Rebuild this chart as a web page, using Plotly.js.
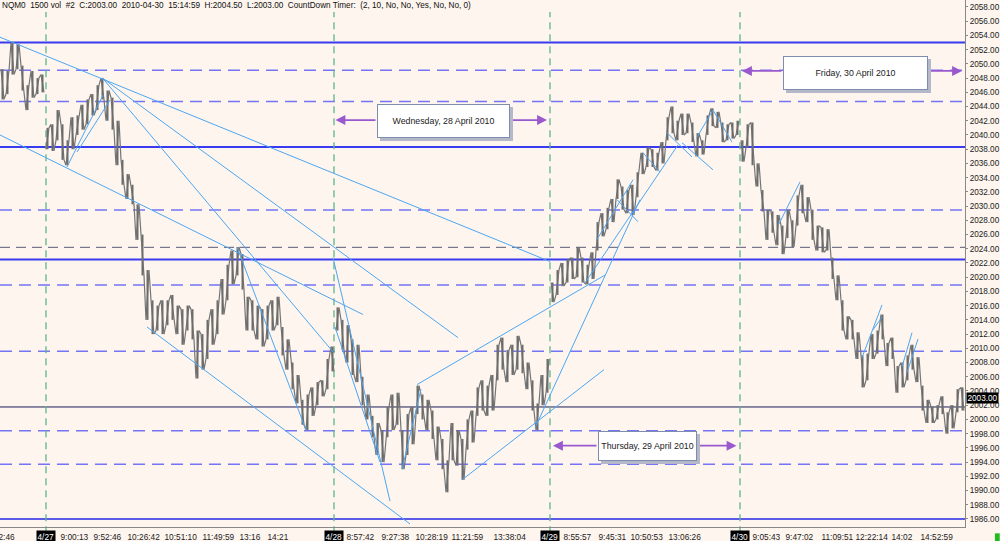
<!DOCTYPE html>
<html><head><meta charset="utf-8">
<script src="https://cdn.plot.ly/plotly-3.0.1.min.js"></script>
<style>html,body{margin:0;padding:0;background:#fdf5ee;}#chart{width:1000px;height:541px;}</style>
</head><body><div id="chart"></div>
<script>
// ---- data (bar index = time slot, prices in index points) ----
const barHigh = [2049.25,2049.0,2053.0,2052.75,2049.75,2047.0,2049.0,2048.0,2048.5,
2041.0,2041.5,2043.5,2041.5,2039.25,2042.5,2042.75,2044.25,2045.0,2045.75,2047.0,2048.0,2046.25,2045.25,2042.0,2036.5,2034.5,2033.0,2030.25,2026.0,2021.0,
2016.75,2016.0,2016.75,2016.75,2017.5,2016.0,2015.5,2016.0,2015.5,2012.5,2012.0,2014.0,2015.5,2016.75,2019.75,2021.75,2023.75,2024.25,2023.25,2017.25,
2016.75,2016.0,2015.5,2016.0,2016.75,2017.25,2013.0,2011.25,2008.0,2006.25,2002.75,2003.5,2004.5,2005.25,2005.5,2008.5,2010.25,
2015.75,2014.0,2013.25,2011.25,2010.5,2006.0,2003.5,2000.5,1999.5,1998.5,2001.75,2003.5,2003.75,1998.5,2000.75,2001.75,2004.75,2003.5,2002.75,2001.25,
1999.0,1997.25,1994.25,1999.5,1998.5,1997.25,2000.0,2001.25,2004.5,2005.5,2004.75,2006.25,2010.5,2011.5,2009.75,2010.5,2011.75,2010.5,2008.0,2005.5,2002.25,2006.25,2008.5,
2019.25,2021.0,2022.0,2022.5,2022.75,2024.25,2022.75,2021.75,2023.5,2027.75,2029.0,2029.75,2031.0,2033.75,2032.75,2032.25,2033.0,2034.75,2037.5,2038.25,
2038.0,2037.5,2039.0,2042.5,2044.0,2042.0,2043.0,2043.0,2041.75,2040.25,2039.25,2042.75,2043.75,2043.25,2041.75,2041.5,2041.75,2042.0,
2039.25,2041.5,2041.75,2036.0,2032.25,2029.5,2029.25,2028.75,2027.25,2029.5,2028.0,2031.5,2033.0,2031.25,2029.5,2027.25,2027.0,2026.75,2022.75,2020.25,
2016.75,2014.5,2014.0,2012.25,2009.0,2009.25,2012.0,2012.5,2014.75,2010.75,2011.5,2007.5,2008.0,2009.0,2010.5,2008.75,2004.75,2002.75,2001.75,2002.0,
2003.25,2001.0,2002.0,2004.25,2004.5];
const barLow = [2045.0,2045.75,2048.5,2049.25,2046.25,2043.5,2045.25,2045.75,2046.0,
2038.0,2037.75,2039.25,2036.5,2035.75,2038.0,2040.0,2040.75,2041.5,2042.75,2043.5,2045.0,2042.0,2040.75,2035.75,2033.0,2031.0,2030.25,2025.25,2020.25,2014.0,
2012.0,2012.5,2012.0,2013.25,2014.0,2012.0,2010.5,2012.5,2011.25,2005.75,2007.0,2008.5,2010.5,2012.0,2014.75,2016.75,2019.0,2020.25,2018.25,2012.5,
2012.5,2011.25,2010.25,2011.25,2012.5,2013.25,2009.0,2007.0,2004.25,2002.25,1999.25,1998.5,2000.5,2002.0,2003.25,2004.25,2006.75,
2012.5,2009.75,2008.0,2006.25,2005.25,2002.0,2000.0,1997.5,1995.0,1994.0,1997.5,1998.5,1999.25,1993.0,1995.0,1996.5,2000.75,2000.0,1998.5,1997.25,
1994.25,1993.0,1989.75,1994.25,1993.5,1991.5,1995.75,1996.75,2000.5,2001.25,2000.5,2001.25,2005.5,2007.0,2005.25,2006.25,2007.0,2006.5,2004.25,2001.25,1998.5,2002.0,2003.75,
2016.5,2017.5,2018.75,2019.25,2019.75,2020.0,2019.25,2019.0,2019.75,2023.75,2025.75,2026.75,2027.75,2031.0,2029.5,2029.0,2028.75,2031.25,2034.5,2035.5,
2035.5,2035.0,2036.0,2039.25,2040.25,2039.25,2040.0,2040.25,2039.0,2037.0,2037.25,2040.0,2041.25,2041.0,2039.0,2039.25,2039.5,2040.0,
2036.25,2038.25,2035.75,2032.75,2029.25,2025.25,2026.25,2024.5,2023.25,2025.5,2024.25,2027.25,2029.0,2027.75,2025.25,2023.75,2023.5,2023.75,2019.75,2016.75,
2012.5,2011.25,2011.25,2008.5,2004.5,2005.5,2008.5,2009.25,2011.25,2007.5,2008.5,2003.75,2004.5,2005.5,2007.0,2005.25,2001.25,1999.5,1999.5,2000.0,
2000.75,1998.0,1998.75,2001.0,2001.25];
const lastClose = 2003.00;

const dayBreaks = [8.7, 66.3, 109.5, 147.5];
const dayLabels = ['4/27', '4/28', '4/29', '4/30'];

const timeTickPos = [0.9,14.3,20.9,28.3,35.7,43.1,49.5,55.1,71.5,78.5,85.9,92.9,101.5,114.9,121.9,128.9,136.5,152.7,159.3,166.9,173.9,179.9,186.9];
const timeTickText = ['2:46','9:00:13','9:52:46','10:26:42','10:51:10','11:49:59','13:16','14:21','8:57:42','9:27:38','10:28:19','11:21:59','13:38:04',
  '8:55:57','9:45:31','10:50:53','13:06:26','9:05:43','9:47:02','11:09:51','12:22:14','14:02','14:52:59'];

const solidLevels = [2053.0, 2038.3, 2022.5];
const bottomLevel = 1986.0;
const thinLevel = 2001.75;
const dashedLevels = [2049.1, 2044.7, 2029.45, 2018.9, 2009.6, 1998.4, 1993.7];
const greyDashedLevel = 2024.2;

// trendlines: [startIndex, startPrice, endIndex, endPrice]
const trendLines = [
  [-0.5,2053.75,109.5,2022.2],[20,2048,91.1,2011.5],[20,2048,66.1,2009.5],[-0.5,2040,72.1,2014.75],
  [46.9,2024.25,60.7,1998.5],[66.1,2022.75,77.5,1988.5],[66.5,2013,75.5,1994],[28.9,2013,81.5,1985.3],
  [79.9,1993,83.7,2004.25],[82.9,2004.9,120.5,2020.3],[91.9,1991.5,120.3,2007.0],[106.5,1998.8,127.5,2030.9],
  [116.5,2019.2,135.1,2038.6],[118.9,2025.3,126.1,2033.7],[122.9,2030.9,127.1,2027.8],[128.1,2037.5,131.5,2034.8],
  [132.9,2040.3,137.9,2036.9],[135.9,2038.9,142.1,2035.1],[142.1,2043.5,145.9,2039.0],[138.9,2039.7,142.1,2043.5],
  [155.3,2027.5,159.5,2033.4],[171.9,2008.7,175.9,2016.1],[174.1,2012.6,175.9,2014.4],[179.9,2007.4,181.9,2012.2],
  [180.9,2006.6,183.1,2011.3],[12.9,2035.5,20.1,2045.6],[14.9,2037.6,21.5,2044.9]
];

// day note boxes
const dayNotes = [
  {text:'Wednesday, 28 April 2010', x:88.2, y:2042.0, ay:2042.1, left:[74.9,66.6], right:[101.5,108.9], w:131, h:32},
  {text:'Thursday, 29 April 2010', x:129.0, y:1996.3, ay:1996.3, left:[119.1,110.1], right:[138.9,146.8], w:97, h:28},
  {text:'Friday, 30 April 2010', x:170.6, y:2048.75, ay:2049.0, left:[156.1,147.9], right:[185.1,191.9], w:143, h:32}
];

const headerText = 'NQM0  1500 vol  #2  C:2003.00  2010-04-30  15:14:59  H:2004.50  L:2003.00  CountDown Timer:  (2, 10, No, No, Yes, No, No, 0)';

// ---- build ----
const FONT = 'Liberation Sans, Arial, sans-serif';
const segX = [], segY = [], zzX = [], zzY = [];
for (let i = 0; i < barHigh.length; i++) {
  if (i > 0 && dayBreaks.some(b => b > i - 1 && b < i)) { zzX.push(null); zzY.push(null); }
  segX.push(i, i, null); segY.push(barLow[i], barHigh[i], null);
  if (i % 2 === 0) { zzX.push(i - 0.3, i + 0.3); zzY.push(barHigh[i], barLow[i]); }
  else { zzX.push(i - 0.3, i + 0.3); zzY.push(barLow[i], barHigh[i]); }
}
const traces = [
  {type:'scatter', mode:'lines', x:zzX, y:zzY, connectgaps:false, line:{color:'#757575', width:1.2}, hoverinfo:'skip'},
  {type:'scatter', mode:'lines', x:segX, y:segY, line:{color:'#6c6c6c', width:2}, hoverinfo:'skip'}
];

const shapes = [];
dashedLevels.forEach(v => shapes.push({type:'line', xref:'paper', x0:0, x1:1, yref:'y', y0:v, y1:v, layer:'below',
  line:{color:'#7474f4', width:1.5, dash:'12px,7px'}}));
shapes.push({type:'line', xref:'paper', x0:0, x1:1, yref:'y', y0:greyDashedLevel, y1:greyDashedLevel, layer:'below',
  line:{color:'#5a5a78', width:1, dash:'10px,6px'}});
solidLevels.forEach(v => shapes.push({type:'line', xref:'paper', x0:0, x1:1, yref:'y', y0:v, y1:v, layer:'below',
  line:{color:'#3a3af0', width:2}}));
shapes.push({type:'line', xref:'paper', x0:0, x1:1, yref:'y', y0:bottomLevel, y1:bottomLevel, layer:'below', line:{color:'#2626e6', width:1.5}});
shapes.push({type:'line', xref:'paper', x0:0, x1:1, yref:'y', y0:thinLevel, y1:thinLevel, layer:'below', line:{color:'#1c1c5c', width:1}});
dayBreaks.forEach(b => shapes.push({type:'line', xref:'x', x0:b, x1:b, yref:'paper', y0:-0.012, y1:0.977, layer:'below',
  line:{color:'#5fb58c', width:1.3, dash:'7px,5px'}}));
trendLines.forEach(t => shapes.push({type:'line', xref:'x', yref:'y', x0:t[0], y0:t[1], x1:t[2], y1:t[3], layer:'above',
  line:{color:'#4ea6f2', width:1}}));
shapes.push({type:'rect', xref:'paper', yref:'paper', x0:1.031, x1:1.036, y0:-0.027, y1:-0.012, fillcolor:'#22bb22', line:{width:0}});

const annotations = [];
annotations.push({xref:'paper', yref:'paper', x:0, y:1, xanchor:'left', yanchor:'top', yshift:1, showarrow:false,
  text: headerText.replace(/ {2}/g, '&nbsp; '), font:{family:FONT, size:8.2, color:'#111'}});
timeTickText.forEach((t, k) => annotations.push({xref:'x', x:timeTickPos[k], yref:'paper', y:0, yanchor:'top', yshift:-3,
  showarrow:false, text:t, borderpad:0.5, font:{family:FONT, size:8.3, color:'#222'}}));
dayBreaks.forEach((b, k) => annotations.push({xref:'x', x:b, yref:'paper', y:0, yanchor:'top', yshift:-3, showarrow:false,
  text: dayLabels[k], bgcolor:'#000', borderpad:0.5, font:{family:FONT, size:8.3, color:'#fff'}}));
annotations.push({xref:'paper', x:1, xanchor:'left', xshift:1, yref:'y', y:lastClose, showarrow:false,
  text: lastClose.toFixed(2), bgcolor:'#000', borderpad:0.5, font:{family:FONT, size:8.2, color:'#fff'}});
dayNotes.forEach(n => {
  [n.left, n.right].forEach(a => annotations.push({xref:'x', yref:'y', x:a[1], y:n.ay, axref:'x', ayref:'y', ax:a[0], ay:n.ay,
    text:'', showarrow:true, arrowhead:2, arrowsize:1.1, arrowwidth:1.8, arrowcolor:'#9a58cf'}));
  annotations.push({xref:'x', yref:'y', x:n.x, y:n.y, showarrow:false, text:'', width:n.w, height:n.h, xshift:3, yshift:-3,
    bgcolor:'#b5b8c8', borderpad:0, borderwidth:1, bordercolor:'#b5b8c8'});
  annotations.push({xref:'x', yref:'y', x:n.x, y:n.y, showarrow:false, text:n.text, width:n.w, height:n.h,
    bgcolor:'#ffffff', borderpad:0, borderwidth:1, bordercolor:'#7e8cae', font:{family:FONT, size:8.8, color:'#222'}});
});

const layout = {
  width: 1000, height: 541,
  margin: {l:0, r:35, t:0, b:14},
  paper_bgcolor: '#fdf5ee', plot_bgcolor: '#fdf5ee',
  showlegend: false,
  xaxis: {range:[-0.5, 192.5], showticklabels:false, ticks:'', showgrid:false,
    zeroline:false, showline:true, linecolor:'#888', linewidth:1, fixedrange:true},
  yaxis: {side:'right', range:[1984.87, 2058.98], tick0:1986, dtick:2, tickformat:'.2f', ticks:'outside', ticklen:2,
    tickcolor:'#888', showgrid:false, zeroline:false, showline:true, linecolor:'#888', linewidth:1,
    tickfont:{family:FONT, size:8.2, color:'#222'}, fixedrange:true},
  shapes: shapes, annotations: annotations
};
Plotly.newPlot('chart', traces, layout, {displayModeBar:false, staticPlot:true});
</script>
</body></html>
